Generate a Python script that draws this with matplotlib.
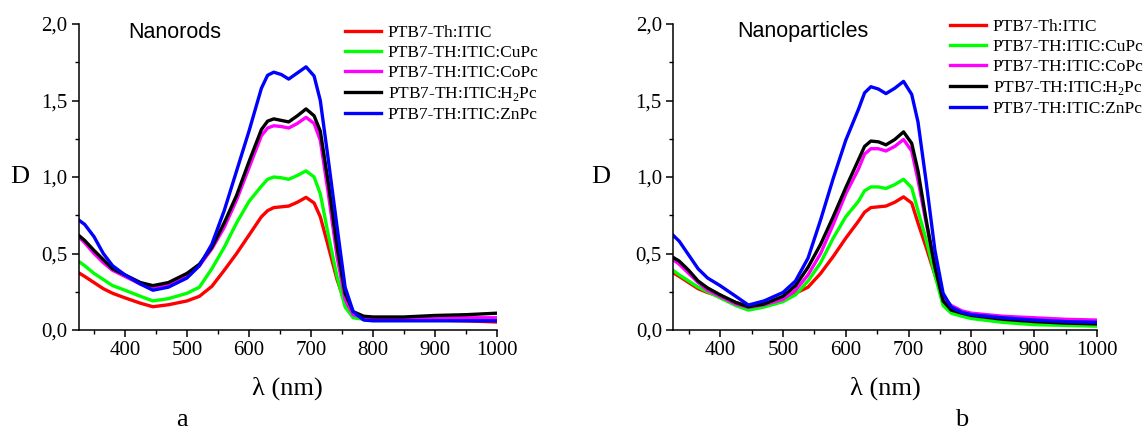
import numpy as np
import matplotlib
matplotlib.use("Agg")
import matplotlib.pyplot as plt
from matplotlib.ticker import MultipleLocator, FuncFormatter

plt.rcParams['font.family'] = 'Liberation Serif'
plt.rcParams['mathtext.fontset'] = 'custom'
plt.rcParams['mathtext.rm'] = 'Liberation Serif'

# ----------------------------------------------------------------
# wavelength grid (nm)
wl = [325, 335, 350, 365, 380, 400, 425, 445, 470, 500, 520, 540, 560, 580, 600,
      620, 630, 640, 652, 664, 678, 692, 705, 715, 728, 742, 755, 768, 785, 800,
      850, 900, 950, 1000]

labels = ['PTB7-Th:ITIC', 'PTB7-TH:ITIC:CuPc', 'PTB7-TH:ITIC:CoPc',
          'PTB7-TH:ITIC:H$_{\\mathrm{2}}$Pc', 'PTB7-TH:ITIC:ZnPc']
colors = ['#ff0000', '#00ff00', '#ff00ff', '#000000', '#0000ff']

# panel a : nanorods
rods_th_itic = [0.375, 0.35, 0.31, 0.27, 0.24, 0.21, 0.175, 0.152, 0.165, 0.19, 0.22, 0.285, 0.39, 0.50, 0.62,
                0.74, 0.78, 0.80, 0.805, 0.81, 0.835, 0.867, 0.83, 0.74, 0.545, 0.33, 0.175, 0.10, 0.085, 0.08,
                0.07, 0.065, 0.06, 0.052]
rods_cupc = [0.45, 0.42, 0.37, 0.33, 0.29, 0.26, 0.22, 0.19, 0.205, 0.24, 0.28, 0.40, 0.54, 0.70, 0.84,
             0.94, 0.985, 1.0, 0.995, 0.985, 1.01, 1.04, 1.0, 0.89, 0.62, 0.35, 0.15, 0.08, 0.07, 0.07,
             0.07, 0.07, 0.07, 0.07]
rods_copc = [0.61, 0.57, 0.50, 0.44, 0.39, 0.35, 0.30, 0.275, 0.30, 0.355, 0.42, 0.53, 0.67, 0.85, 1.06,
             1.27, 1.32, 1.335, 1.33, 1.32, 1.35, 1.39, 1.35, 1.24, 0.89, 0.48, 0.20, 0.10, 0.08, 0.075,
             0.075, 0.08, 0.08, 0.08]
rods_h2pc = [0.62, 0.585, 0.52, 0.46, 0.40, 0.36, 0.31, 0.29, 0.31, 0.37, 0.43, 0.54, 0.70, 0.88, 1.10,
             1.31, 1.365, 1.38, 1.37, 1.36, 1.40, 1.445, 1.40, 1.30, 0.96, 0.545, 0.24, 0.12, 0.09, 0.085,
             0.085, 0.095, 0.10, 0.11]
rods_znpc = [0.72, 0.69, 0.61, 0.50, 0.42, 0.36, 0.30, 0.26, 0.28, 0.34, 0.42, 0.56, 0.78, 1.04, 1.30,
             1.58, 1.665, 1.685, 1.67, 1.64, 1.68, 1.72, 1.66, 1.50, 1.11, 0.675, 0.28, 0.12, 0.065, 0.06,
             0.06, 0.06, 0.06, 0.06]

# panel b : nanoparticles
part_th_itic = [0.375, 0.35, 0.31, 0.27, 0.245, 0.22, 0.18, 0.155, 0.17, 0.195, 0.24, 0.28, 0.37, 0.48, 0.60,
                0.71, 0.77, 0.80, 0.805, 0.81, 0.835, 0.87, 0.83, 0.70, 0.54, 0.36, 0.20, 0.14, 0.11, 0.10,
                0.085, 0.075, 0.065, 0.06]
part_cupc = [0.39, 0.36, 0.32, 0.28, 0.25, 0.21, 0.16, 0.13, 0.15, 0.185, 0.23, 0.32, 0.44, 0.60, 0.74,
             0.84, 0.91, 0.935, 0.935, 0.925, 0.95, 0.985, 0.93, 0.78, 0.59, 0.36, 0.16, 0.11, 0.09, 0.075,
             0.05, 0.035, 0.03, 0.025]
part_copc = [0.46, 0.43, 0.37, 0.31, 0.26, 0.22, 0.17, 0.148, 0.165, 0.20, 0.26, 0.36, 0.50, 0.69, 0.89,
             1.05, 1.15, 1.185, 1.185, 1.17, 1.20, 1.245, 1.17, 0.98, 0.70, 0.42, 0.21, 0.16, 0.125, 0.11,
             0.09, 0.08, 0.07, 0.065]
part_h2pc = [0.475, 0.45, 0.39, 0.32, 0.275, 0.23, 0.18, 0.152, 0.17, 0.22, 0.29, 0.41, 0.56, 0.74, 0.93,
             1.11, 1.20, 1.235, 1.23, 1.21, 1.245, 1.295, 1.22, 1.04, 0.72, 0.41, 0.19, 0.13, 0.11, 0.095,
             0.07, 0.055, 0.045, 0.04]
part_znpc = [0.62, 0.58, 0.49, 0.40, 0.34, 0.29, 0.22, 0.163, 0.19, 0.245, 0.32, 0.47, 0.72, 0.99, 1.24,
             1.44, 1.55, 1.59, 1.575, 1.545, 1.58, 1.625, 1.54, 1.36, 0.97, 0.52, 0.24, 0.15, 0.115, 0.10,
             0.08, 0.065, 0.055, 0.05]

panels = [
    ('Nanorods', [rods_th_itic, rods_cupc, rods_copc, rods_h2pc, rods_znpc]),
    ('Nanoparticles', [part_th_itic, part_cupc, part_copc, part_h2pc, part_znpc]),
]

# ----------------------------------------------------------------

W, H = 1143, 430
fig = plt.figure(figsize=(W / 100, H / 100), dpi=100)

# axes boxes in pixels: left, right, top, bottom
boxes = [(78.5, 497, 24, 330), (673, 1097, 24, 330)]
title_pos = [(175, 32), (803, 32)]
leg_pos = [(345, 25), (950, 19)]
ylab_x = [20, 601]
panel_letter = [('a', 182, 420), ('b', 962, 420)]

comma = FuncFormatter(lambda v, p: f'{v:.1f}'.replace('.', ','))

for k, (name, series) in enumerate(panels):
    l, r, t, b = boxes[k]
    ax = fig.add_axes([l / W, 1 - b / H, (r - l) / W, (b - t) / H])
    for vals, c, lab in zip(series, colors, labels):
        ax.plot(wl, vals, color=c, lw=2.4, label=lab, solid_joinstyle='round')

    ax.set_xlim(325, 1000)
    ax.set_ylim(0, 2.0)
    ax.xaxis.set_major_locator(MultipleLocator(100))
    ax.xaxis.set_minor_locator(MultipleLocator(50))
    ax.yaxis.set_major_locator(MultipleLocator(0.5))
    ax.yaxis.set_minor_locator(MultipleLocator(0.25))
    ax.yaxis.set_major_formatter(comma)
    for s in ['top', 'right']:
        ax.spines[s].set_visible(False)
    for s in ['left', 'bottom']:
        ax.spines[s].set_linewidth(1.1)
    ax.tick_params(which='major', direction='out', length=5, width=1.1, labelsize=15, pad=3)
    ax.tick_params(which='minor', direction='out', length=3, width=1.0)

    ax.set_xlabel('λ (nm)', fontsize=19)
    ax.xaxis.set_label_coords(0.5, -(388 - b) / (b - t))
    ax.xaxis.label.set_va('center')
    ax.set_ylabel('D', fontsize=19, rotation=0, va='center', ha='center')
    ax.yaxis.set_label_coords((ylab_x[k] - l) / (r - l), 0.5)

    fig.text(title_pos[k][0] / W, 1 - title_pos[k][1] / H, name, family='Liberation Sans',
             fontsize=15.5, ha='center', va='center')

    ax.legend(loc='upper left', bbox_to_anchor=(leg_pos[k][0] / W, 1 - leg_pos[k][1] / H),
              bbox_transform=fig.transFigure, frameon=False, fontsize=12.5,
              handlelength=2.1, handletextpad=0.35, labelspacing=0.22, borderpad=0, borderaxespad=0)

    fig.text(panel_letter[k][1] / W, 1 - panel_letter[k][2] / H, panel_letter[k][0],
             fontsize=19, ha='center', va='center')

fig.savefig('out.png', dpi=100)
